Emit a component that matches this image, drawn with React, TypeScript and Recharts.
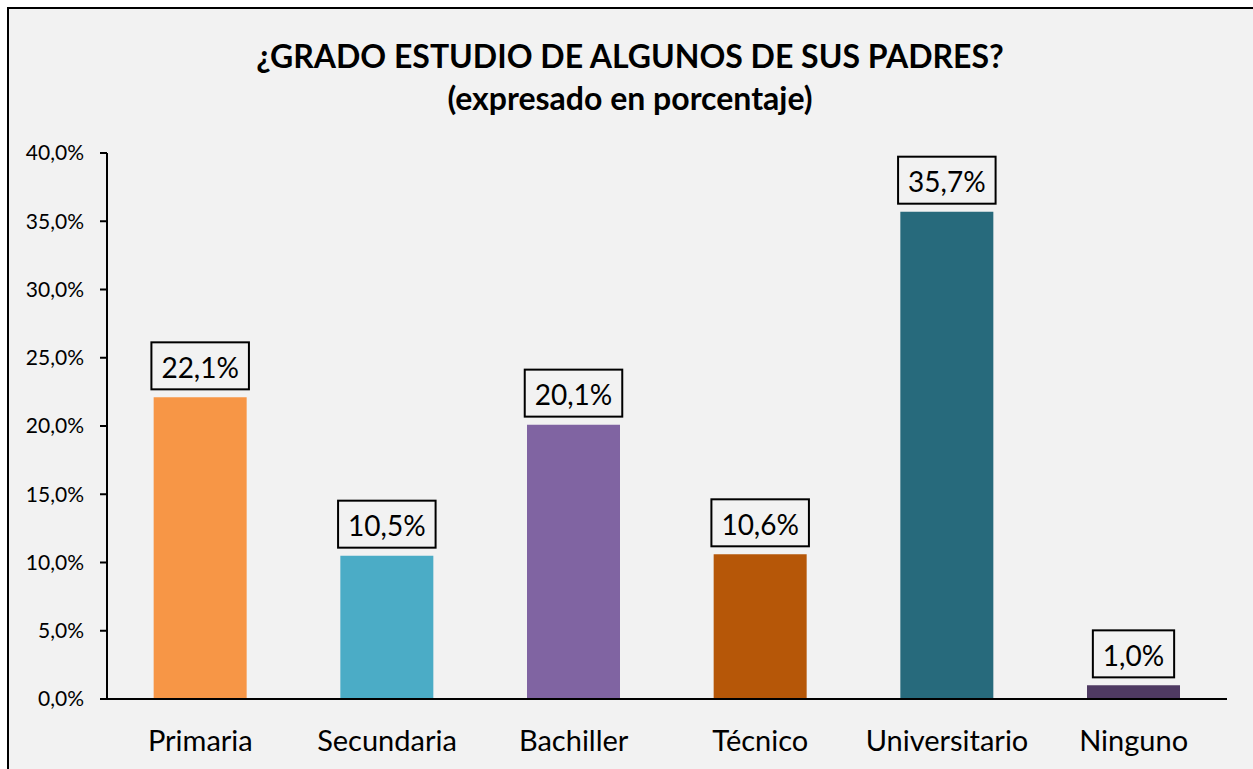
import React from "react";
import { BarChart, Bar, XAxis, YAxis, Cell, LabelList } from "recharts";

const categories = ["Primaria", "Secundaria", "Bachiller", "Técnico", "Universitario", "Ninguno"];
const values = [22.1, 10.5, 20.1, 10.6, 35.7, 1.0];
const colors = ["#F79646", "#4BACC6", "#8064A2", "#B65708", "#276A7C", "#4F3A62"];
const yTicks = [0, 5, 10, 15, 20, 25, 30, 35, 40];
const titleLines = ["¿GRADO ESTUDIO DE ALGUNOS DE SUS PADRES?", "(expresado en porcentaje)"];

const data = categories.map((c, i) => ({ name: c, value: values[i] }));

const FONT = "Lato, 'Noto Sans', sans-serif";
const fmt = (v: number) => v.toFixed(1).replace(".", ",") + "%";

let ctx: CanvasRenderingContext2D | null = null;
function measure(text: string, font: string) {
  if (!ctx) {
    const c = document.createElement("canvas");
    ctx = c.getContext("2d");
  }
  if (!ctx) return text.length * 15;
  ctx.font = font;
  return ctx.measureText(text).width;
}

const BoxLabel = (props: any) => {
  const { x, y, width, value } = props;
  const text = fmt(Number(value));
  const tw = measure(text, "28px Lato");
  const bw = tw + 20;
  const bh = 47;
  const cx = x + width / 2;
  const bottom = y - 8;
  return (
    <g>
      <rect x={cx - bw / 2} y={bottom - bh} width={bw} height={bh} fill="#F2F2F2" stroke="#000" strokeWidth={2} />
      <text x={cx} y={bottom - bh / 2 + 1} textAnchor="middle" dominantBaseline="central" fontSize={28} fontFamily={FONT} fill="#000">
        {text}
      </text>
    </g>
  );
};

export default function App() {
  return (
    <div style={{ position: "fixed", inset: 0, overflow: "hidden", background: "#fff" }}>
      <div
        style={{
          position: "absolute",
          left: 7,
          top: 7,
          width: 1250,
          height: 770,
          border: "2px solid #000",
          background: "#F2F2F2",
        }}
      >
        <div
          style={{
            position: "absolute",
            left: 0,
            top: 26,
            width: 1242,
            textAlign: "center",
            fontFamily: FONT,
            fontWeight: 700,
            fontSize: 32,
            lineHeight: "42px",
            color: "#000",
          }}
        >
          {titleLines.map((l) => (
            <div key={l}>{l}</div>
          ))}
        </div>
        <BarChart
          width={1250}
          height={770}
          data={data}
          margin={{ top: 144, right: 32, bottom: 30, left: 0 }}
          barCategoryGap="25%"
        >
          <XAxis
            dataKey="name"
            tickLine={false}
            tickSize={0}
            tickMargin={31}
            height={50}
            axisLine={{ stroke: "#000", strokeWidth: 2 }}
            tick={{ fill: "#000", fontSize: 29, fontFamily: FONT }}
            interval={0}
          />
          <YAxis
            width={98}
            domain={[0, 40]}
            ticks={yTicks}
            tickFormatter={fmt}
            tickSize={7}
            tickMargin={16}
            axisLine={{ stroke: "#000", strokeWidth: 2 }}
            tickLine={{ stroke: "#000", strokeWidth: 2 }}
            tick={{ fill: "#000", fontSize: 21, fontFamily: FONT }}
            interval={0}
          />
          <Bar dataKey="value" isAnimationActive={false}>
            {data.map((d, i) => (
              <Cell key={d.name} fill={colors[i]} />
            ))}
            <LabelList dataKey="value" content={BoxLabel} />
          </Bar>
        </BarChart>
      </div>
    </div>
  );
}
